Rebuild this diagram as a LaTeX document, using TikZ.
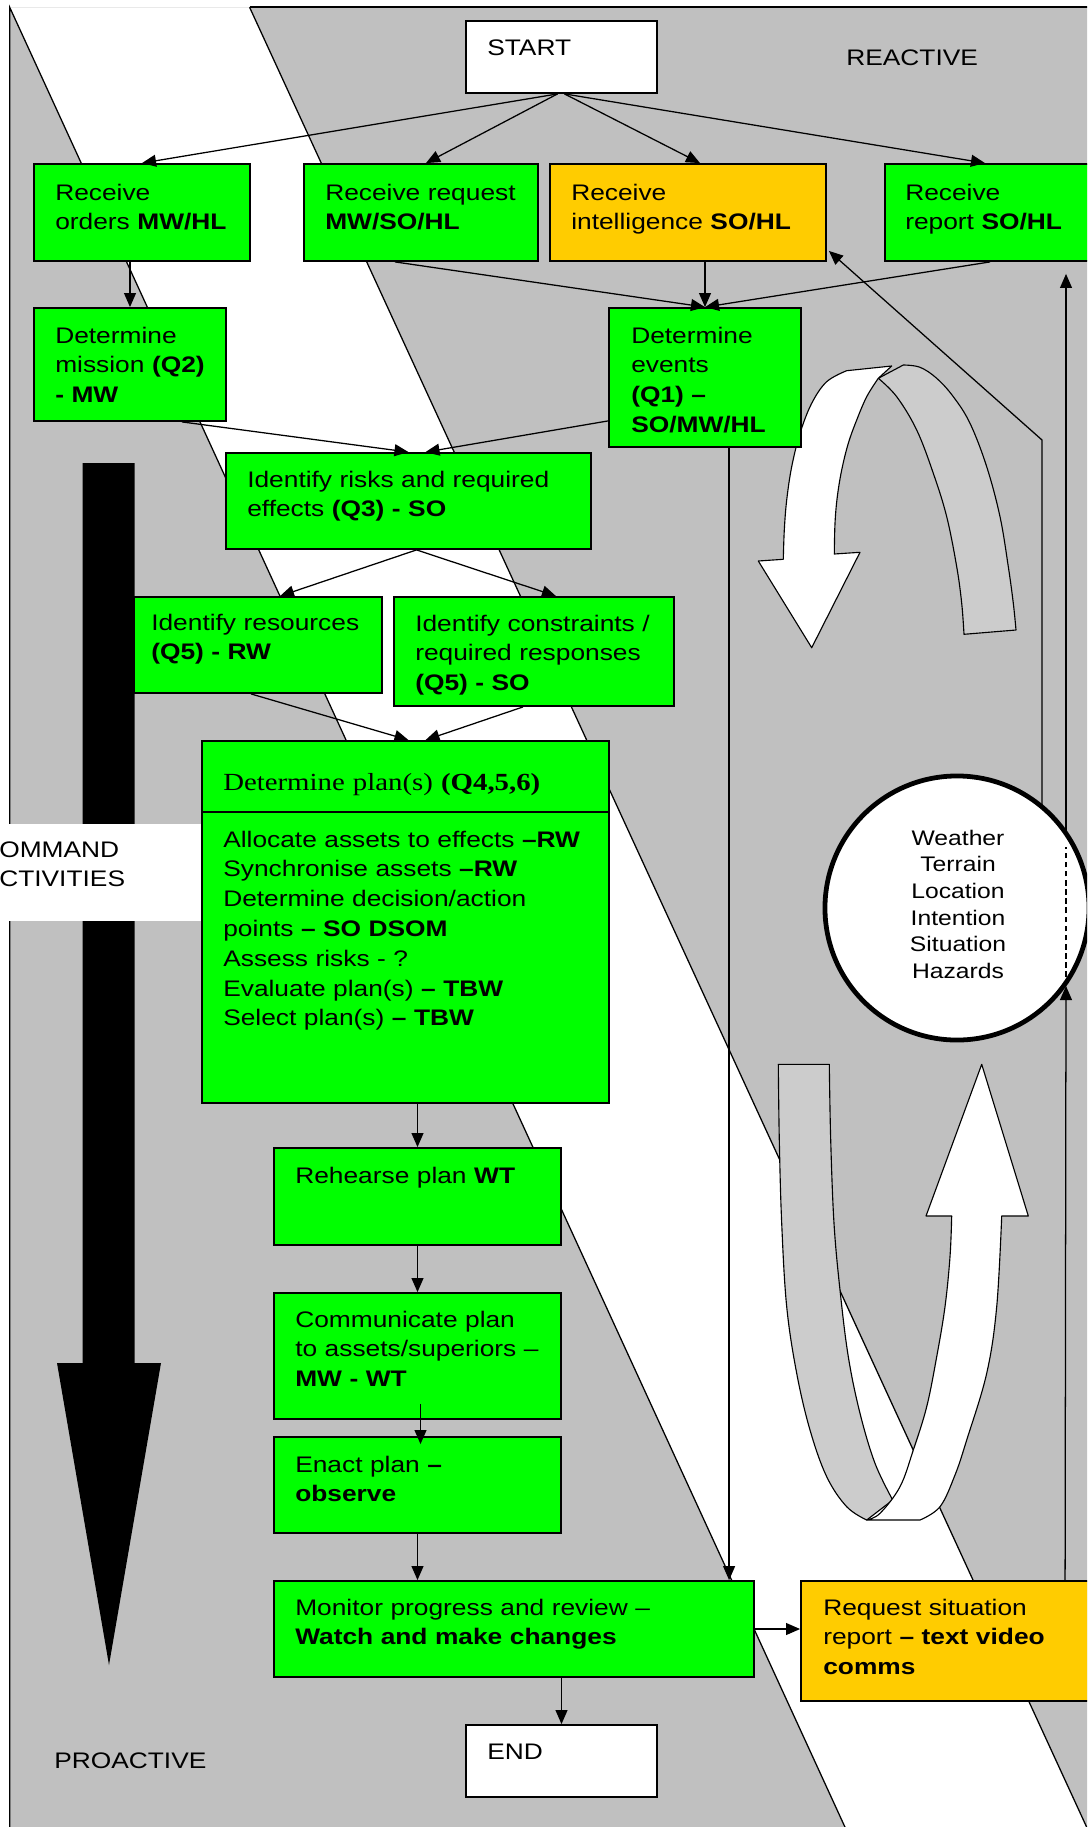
\documentclass[tikz,border=0pt]{standalone}
\usepackage{fontspec}
\setmainfont{Liberation Sans}[FakeStretch=1.17]
\newfontfamily\headserif{Liberation Serif}[FakeStretch=1.17]
\usetikzlibrary{arrows.meta,calc,fit}
\definecolor{bggray}{HTML}{C0C0C0}
\definecolor{ribgray}{HTML}{CCCCCC}
\definecolor{boxgreen}{HTML}{00FF00}
\definecolor{boxorange}{HTML}{FFCC00}
\begin{document}
\begin{tikzpicture}[x=0.025cm,y=-0.025cm,
  frame/.style={line width=0.9pt},
  bx/.style={draw=black,line width=1.3pt,inner sep=0pt,rectangle},
  gbx/.style={bx,fill=boxgreen},
  obx/.style={bx,fill=boxorange},
  wbx/.style={bx,fill=white},
  tx/.style={anchor=base west,inner sep=0pt,align=left,text width=12cm,font=\fontsize{16}{21.2}\selectfont},
  arr/.style={line width=0.9pt,-{Triangle[length=10pt,width=8.5pt]}},
  rib/.style={draw=black,line width=0.8pt,line join=round}]
\useasboundingbox (0,0) rectangle (1087,1827);
\clip (0,0) rectangle (1087,1827);
% background
\fill[bggray] (9.7,7.3) -- (1100,7.3) -- (1100,1840) -- (9.7,1840) -- cycle;
\fill[white] (9.7,7.3) -- (249.6,7.3) -- (1092.6,1840) -- (850.9,1840) -- cycle;
\draw[frame] (9.7,1840) -- (9.7,7.3) -- (850.9,1840);
\draw[frame] (249.6,7.3) -- (1092.6,1840);
\draw[line width=1.5pt] (249.6,7.3) -- (1100,7.3);
% black arrow
\fill[black] (82.5,463) -- (134.5,463) -- (134.5,1363) -- (161,1363) -- (109,1665) -- (57,1363) -- (82.5,1363) -- cycle;
% label
\fill[white] (-5,824) rectangle (202,921);
\node[tx] (cmdlabel) at (-1,857) {OMMAND\\CTIVITIES};
\node[tx] (reactive) at (846,66) {REACTIVE};
\node[tx] (proactive) at (54,1768) {PROACTIVE};
% upper ribbon
\filldraw[rib,fill=ribgray] plot[smooth,tension=0.6] coordinates {(903.3,365) (920,367.3) (936.7,378.3) (953.3,396.7) (970,423.3) (986.7,466.7) (1000,516.7) (1008.3,566.7) (1013.3,603.3) (1016,630)}
  -- (964,634.3)
  -- plot[smooth,tension=0.6] coordinates {(964,634.3) (961.7,603.3) (956.7,566.7) (946.7,516.7) (933.3,473.3) (916.7,430) (896.7,396.7) (878.3,378.3)}
  -- cycle;
\filldraw[rib,fill=white] (846.7,370.7) -- (891.7,366) -- (878.3,378.3)
  -- plot[smooth,tension=0.6] coordinates {(878.3,378.3) (866.7,396.7) (856.7,420) (848.3,443.3) (841.7,470) (837.3,496.7) (835,523.3) (834.3,554)}
  -- (860,552.3) -- (811.7,647.7) -- (758.3,561) -- (783.3,559.3)
  -- plot[smooth,tension=0.6] coordinates {(783.3,559.3) (784.3,530) (786.7,500) (791.7,466.7) (800,433.3) (811.7,403.3) (826.7,381.7) (846.7,370.7)}
  -- cycle;
% lower ribbon
\filldraw[rib,fill=ribgray] (778.3,1064.3) -- (829.3,1064.3)
  -- plot[smooth,tension=0.6] coordinates {(829.3,1064.3) (830.7,1140) (834,1223.3) (840,1290) (848.3,1356.7) (860,1413.3) (875,1463.3) (892.7,1500)}
  -- (866.7,1520)
  -- plot[smooth,tension=0.6] coordinates {(866.7,1520) (846.7,1506.7) (826.7,1476.7) (810,1430) (796.7,1373.3) (786.7,1306.7) (781.7,1223.3) (779.3,1140) (778.3,1064.3)}
  -- cycle;
\filldraw[rib,fill=white] (866.7,1520) -- (920,1520)
  -- plot[smooth,tension=0.6] coordinates {(920,1520) (940,1506.7) (955,1475) (966.7,1440) (986.7,1373.3) (996.7,1306.7) (1001.7,1216)}
  -- (1028.3,1216) -- (981.7,1064.3) -- (926,1216) -- (951.7,1216)
  -- plot[smooth,tension=0.6] coordinates {(951.7,1216) (950,1256.7) (945,1306.7) (936.7,1356.7) (926.7,1406.7) (913.3,1450) (900,1486.7) (880,1513.3) (866.7,1520)}
  -- cycle;
% circle
\node[circle,draw=black,line width=3.4pt,fill=white,minimum size=6.6cm,inner sep=0pt] (circ) at (957,908) {};
\node[anchor=base,inner sep=0pt,align=center,text width=5cm,font=\fontsize{15}{19}\selectfont] (circ-t) at (958,845) {Weather\\Terrain\\Location\\Intention\\Situation\\Hazards};
% boxes
\node[wbx,fit={(466,21) (657,93)}] (start) {};
\node[gbx,fit={(34,164) (250,261)}] (orders) {};
\node[gbx,fit={(304,164) (538,261)}] (request) {};
\node[obx,fit={(550,164) (826,261)}] (intel) {};
\node[gbx,fit={(885,164) (1095,261)}] (report) {};
\node[gbx,fit={(34,308) (226,421)}] (mission) {};
\node[gbx,fit={(609,308) (801,447)}] (events) {};
\node[gbx,fit={(226,453) (591,549)}] (risks) {};
\node[gbx,fit={(134,597) (382,693)}] (resources) {};
\node[gbx,fit={(394,597) (674,706)}] (constraints) {};
\node[gbx,fit={(202,741) (609,1103)}] (plan) {};
\draw[line width=1.3pt] ($(plan.north west)+(0,72)$) -- ($(plan.north east)+(0,72)$);
\node[gbx,fit={(274,1148) (561,1245)}] (rehearse) {};
\node[gbx,fit={(274,1293) (561,1419)}] (communicate) {};
\node[gbx,fit={(274,1437) (561,1533)}] (enact) {};
\node[gbx,fit={(274,1581) (754,1677)}] (monitor) {};
\node[obx,fit={(801,1581) (1095,1701)}] (reqsit) {};
\node[wbx,fit={(466,1725) (657,1797)}] (end) {};
% texts
\node[tx] (start-t) at (487,56) {START};
\node[tx] (orders-t) at (55,200) {Receive\\orders \textbf{MW/HL}};
\node[tx] (request-t) at (325,200) {Receive request\\\textbf{MW/SO/HL}};
\node[tx] (intel-t) at (571,200) {Receive\\intelligence \textbf{SO/HL}};
\node[tx] (report-t) at (905,200) {Receive\\report \textbf{SO/HL}};
\node[tx] (mission-t) at (55,343) {Determine\\mission \textbf{(Q2)}\\\textbf{- MW}};
\node[tx] (events-t) at (631,343) {Determine\\events\\\textbf{(Q1) –}\\\textbf{SO/MW/HL}};
\node[tx] (risks-t) at (247,487) {Identify risks and required\\effects \textbf{(Q3) - SO}};
\node[tx] (resources-t) at (151,630) {Identify resources\\\textbf{(Q5) - RW}};
\node[tx] (constraints-t) at (415,631) {Identify constraints /\\required responses\\\textbf{(Q5) - SO}};
\node[tx,font=\headserif\fontsize{17.5}{21}\selectfont] (planhead-t) at (223,790) {Determine plan(s) \textbf{(Q4,5,6)}};
\node[tx] (plan-t) at (223,847) {Allocate assets to effects \textbf{–RW}\\Synchronise assets \textbf{–RW}\\Determine decision/action\\points \textbf{– SO DSOM}\\Assess risks - ?\\Evaluate plan(s) \textbf{– TBW}\\Select plan(s) \textbf{– TBW}};
\node[tx] (rehearse-t) at (295,1183) {Rehearse plan \textbf{WT}};
\node[tx] (communicate-t) at (295,1327) {Communicate plan\\to assets/superiors –\\\textbf{MW - WT}};
\node[tx] (enact-t) at (295,1472) {Enact plan \textbf{–}\\\textbf{observe}};
\node[tx] (monitor-t) at (295,1615) {Monitor progress and review –\\\textbf{Watch and make changes}};
\node[tx] (reqsit-t) at (823,1615) {Request situation\\report \textbf{– text video}\\\textbf{comms}};
\node[tx] (end-t) at (487,1759) {END};
% connectors
\draw[arr] ($(start.south)+(-4,0)$) -- (orders.north);
\draw[arr] ($(start.south)+(-4,0)$) -- ($(request.north)+(5,0)$);
\draw[arr] ($(start.south)+(3,0)$) -- ($(intel.north)+(12,0)$);
\draw[arr] ($(start.south)+(3,0)$) -- ($(report.north)+(-5,0)$);
\draw[arr] (orders.south -| mission.north) -- (mission.north);
\draw[arr] ($(request.south)+(-26,0)$) -- (events.north);
\draw[arr] (intel.south -| events.north) -- (events.north);
\draw[arr] (report.south) -- (events.north);
\draw[arr] ($(mission.south)+(52,0)$) -- ($(risks.north)+(0,0)$);
\draw[arr] ($(events.south west)+(0,-27)$) -- ($(risks.north)+(17,0)$);
\draw[arr] ($(risks.south)+(8,0)$) -- ($(resources.north)+(22,0)$);
\draw[arr] ($(risks.south)+(8,0)$) -- ($(constraints.north)+(22,0)$);
\draw[arr] ($(resources.south)+(-7,0)$) -- ($(plan.north)+(3,0)$);
\draw[arr] ($(constraints.south)+(-11,0)$) -- ($(plan.north)+(20,0)$);
\draw[arr] (plan.south -| rehearse.north) -- (rehearse.north);
\draw[arr] (rehearse.south) -- (communicate.north);
\draw[arr] ($(communicate.south)+(3,-16)$) -- ($(enact.north)+(3,8)$);
\draw[arr] (enact.south) -- (enact.south |- monitor.north);
\draw[arr] (monitor.south -| end.north) -- (end.north);
\draw[arr] (monitor.east) -- (monitor.east -| reqsit.west);
\coordinate (evdown) at ($(events.south west)+(121,0)$);
\draw[arr] (evdown) -- (evdown |- monitor.north);
\coordinate (cup) at (1042,806);
\coordinate (bend) at (1042,440);
\draw[arr] (cup) -- (bend) -- ($(intel.south east)+(2,-11)$);
\coordinate (vstart) at ($(reqsit.north west)+(265,0)$);
\coordinate (vbot) at (1066,986);
\coordinate (vtop) at (1066,831);
\draw[arr] (vstart) -- (vbot);
\draw[line width=0.9pt,dash pattern=on 4pt off 2.5pt] (1066,977) -- (1066,847);
\draw[arr] (vtop) -- ($(vtop |- report.south)+(0,12)$);
\end{tikzpicture}
\end{document}
